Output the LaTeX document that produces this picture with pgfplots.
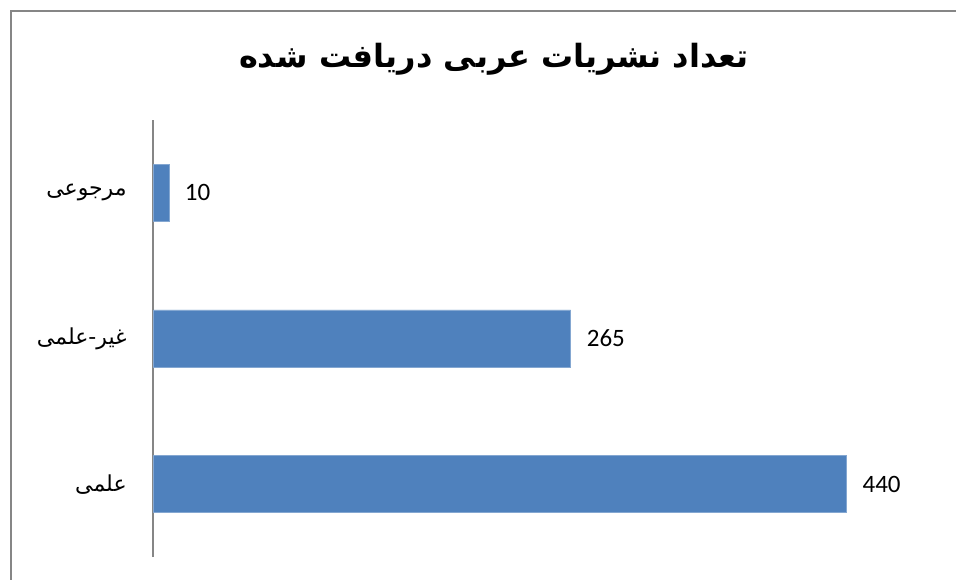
\documentclass[border=0pt]{standalone}
\usepackage{pgfplots}
\pgfplotsset{compat=1.18}
\usepackage{fontspec}
\setmainfont{Carlito}
\newfontfamily\arabicfont[Script=Arabic]{DejaVu Sans}
\TeXXeTstate=1
\definecolor{barblue}{HTML}{4F81BD}
\definecolor{axgray}{HTML}{868686}
\begin{document}
\begin{tikzpicture}[x=1pt,y=1pt]
\clip (0,0) rectangle (956,579);
\fill[white] (0,0) rectangle (956,579);
\draw[axgray, line width=2pt] (11,-20) rectangle (980,567.5);
\node[font=\arabicfont\bfseries\fontsize{32}{38}\selectfont, anchor=center] at (494,520) {\beginR تعداد نشریات عربی دریافت شده\endR};
\begin{axis}[
  at={(153pt,22pt)}, anchor=south west,
  scale only axis, width=788pt, height=437pt,
  xbar, xmin=0, xmax=500, ymin=-0.5, ymax=2.5,
  bar width=57pt,
  axis x line=none, axis y line=left,
  y axis line style={-, draw=axgray, line width=1.5pt},
  ytick={0,1,2},
  yticklabels={{\beginR علمی\endR},{\beginR غیر-علمی\endR},{\beginR مرجوعی\endR}},
  ytick style={draw=none},
  yticklabel style={anchor=east, inner sep=0pt, xshift=-24pt, font=\arabicfont\fontsize{22}{26}\selectfont},
  /pgf/number format/assume math mode=true,
  nodes near coords,
  nodes near coords style={anchor=west, inner sep=0pt, xshift=16pt, font=\fontsize{25}{30}\selectfont, text=black},
  clip=false,
]
\addplot[fill=barblue, draw=barblue!70!white] coordinates {(440,0) (265,1) (10,2)};
\end{axis}
\end{tikzpicture}
\end{document}
